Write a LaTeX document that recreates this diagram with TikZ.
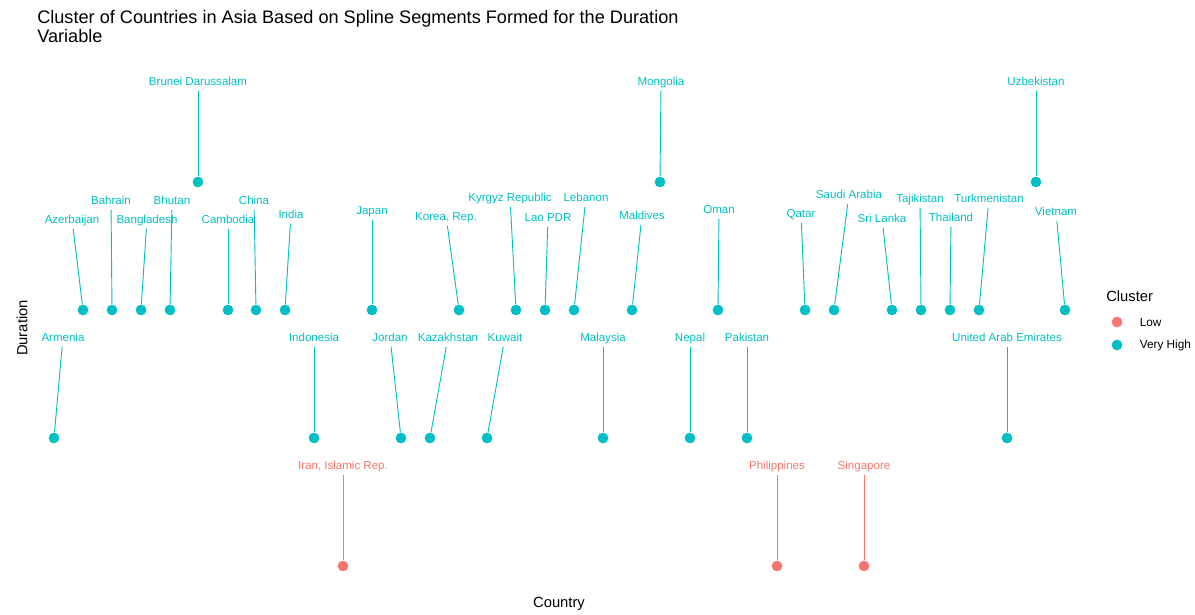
\documentclass[tikz,border=0pt]{standalone}
\usepackage{fontspec}
\setmainfont{Liberation Sans}
\usepackage{tikz}
\usetikzlibrary{positioning}
\definecolor{vhteal}{RGB}{0,191,196}
\definecolor{lowred}{RGB}{248,118,109}

\begin{document}
\begin{tikzpicture}[
    x=0.025cm, y=-0.025cm,
    vhdot/.style={circle, fill=vhteal, inner sep=0pt, minimum size=7.6pt},
    lowdot/.style={circle, fill=lowred, inner sep=0pt, minimum size=7.6pt},
    vhlab/.style={text=vhteal, font=\fontsize{8.2}{9.8}\selectfont, inner sep=1.6pt, text height=1.6ex, text depth=0.35ex},
    lowlab/.style={text=lowred, font=\fontsize{8.2}{9.8}\selectfont, inner sep=1.6pt, text height=1.6ex, text depth=0.35ex},
    vhline/.style={draw=vhteal, line width=0.65pt},
    lowline/.style={draw=lowred, line width=0.65pt},
    axistitle/.style={font=\fontsize{10.5}{12}\selectfont, inner sep=0pt}
]
\useasboundingbox (0,0) rectangle (1195,615);

% Title
\node[anchor=north west, align=left, inner sep=0pt, font=\fontsize{12.9}{13.8}\selectfont] (title) at (37,10)
  {Cluster of Countries in Asia Based on Spline Segments Formed for the Duration\\Variable};

% Top row
\node[vhdot] (brunei) at (198,182) {};
\node[vhdot] (mongolia) at (660,182) {};
\node[vhdot] (uzbekistan) at (1036,182) {};
\node[vhlab] (brunei-lab) at (198,81) {Brunei Darussalam};
\node[vhlab] (mongolia-lab) at (661,81) {Mongolia};
\node[vhlab] (uzbekistan-lab) at (1036,81) {Uzbekistan};

% Second row
\node[vhdot] (azerbaijan) at (83,310) {};
\node[vhdot] (bahrain) at (112,310) {};
\node[vhdot] (bangladesh) at (141,310) {};
\node[vhdot] (bhutan) at (170,310) {};
\node[vhdot] (cambodia) at (228,310) {};
\node[vhdot] (china) at (256,310) {};
\node[vhdot] (india) at (285,310) {};
\node[vhdot] (japan) at (372,310) {};
\node[vhdot] (korea) at (459,310) {};
\node[vhdot] (kyrgyz) at (516,310) {};
\node[vhdot] (lao) at (545,310) {};
\node[vhdot] (lebanon) at (574,310) {};
\node[vhdot] (maldives) at (632,310) {};
\node[vhdot] (oman) at (718,310) {};
\node[vhdot] (qatar) at (805,310) {};
\node[vhdot] (saudi) at (834,310) {};
\node[vhdot] (srilanka) at (892,310) {};
\node[vhdot] (tajikistan) at (921,310) {};
\node[vhdot] (thailand) at (950,310) {};
\node[vhdot] (turkmenistan) at (979,310) {};
\node[vhdot] (vietnam) at (1065,310) {};

\node[vhlab] (azerbaijan-lab) at (72,219) {Azerbaijan};
\node[vhlab] (bahrain-lab) at (111,200) {Bahrain};
\node[vhlab] (bangladesh-lab) at (147,219) {Bangladesh};
\node[vhlab] (bhutan-lab) at (172,200) {Bhutan};
\node[vhlab] (cambodia-lab) at (228,219) {Cambodia};
\node[vhlab] (china-lab) at (254,200) {China};
\node[vhlab] (india-lab) at (291,214) {India};
\node[vhlab] (japan-lab) at (372,210) {Japan};
\node[vhlab] (korea-lab) at (446,216) {Korea, Rep.};
\node[vhlab] (kyrgyz-lab) at (510,197) {Kyrgyz Republic};
\node[vhlab] (lao-lab) at (548,217) {Lao PDR};
\node[vhlab] (lebanon-lab) at (586,197) {Lebanon};
\node[vhlab] (maldives-lab) at (642,215) {Maldives};
\node[vhlab] (oman-lab) at (719,209) {Oman};
\node[vhlab] (qatar-lab) at (801,213) {Qatar};
\node[vhlab] (saudi-lab) at (849,194) {Saudi Arabia};
\node[vhlab] (srilanka-lab) at (882,218) {Sri Lanka};
\node[vhlab] (tajikistan-lab) at (920,198) {Tajikistan};
\node[vhlab] (thailand-lab) at (951,217) {Thailand};
\node[vhlab] (turkmenistan-lab) at (989,198) {Turkmenistan};
\node[vhlab] (vietnam-lab) at (1056,211) {Vietnam};

% Third row
\node[vhdot] (armenia) at (54,438) {};
\node[vhdot] (indonesia) at (314,438) {};
\node[vhdot] (jordan) at (401,438) {};
\node[vhdot] (kazakhstan) at (430,438) {};
\node[vhdot] (kuwait) at (487,438) {};
\node[vhdot] (malaysia) at (603,438) {};
\node[vhdot] (nepal) at (690,438) {};
\node[vhdot] (pakistan) at (747,438) {};
\node[vhdot] (uae) at (1007,438) {};

\node[vhlab] (armenia-lab) at (63,337) {Armenia};
\node[vhlab] (indonesia-lab) at (314,337) {Indonesia};
\node[vhlab] (jordan-lab) at (390,337) {Jordan};
\node[vhlab] (kazakhstan-lab) at (448,337) {Kazakhstan};
\node[vhlab] (kuwait-lab) at (505,337) {Kuwait};
\node[vhlab] (malaysia-lab) at (603,337) {Malaysia};
\node[vhlab] (nepal-lab) at (690,337) {Nepal};
\node[vhlab] (pakistan-lab) at (747,337) {Pakistan};
\node[vhlab] (uae-lab) at (1007,337) {United Arab Emirates};

% Bottom row (low cluster)
\node[lowdot] (iran) at (343,566) {};
\node[lowdot] (philippines) at (777,566) {};
\node[lowdot] (singapore) at (864,566) {};
\node[lowlab] (iran-lab) at (343,465) {Iran, Islamic Rep.};
\node[lowlab] (philippines-lab) at (777,465) {Philippines};
\node[lowlab] (singapore-lab) at (864,465) {Singapore};

% Segments
\draw[vhline] (brunei-lab) -- (brunei);
\draw[vhline] (mongolia-lab) -- (mongolia);
\draw[vhline] (uzbekistan-lab) -- (uzbekistan);
\draw[vhline] (azerbaijan-lab) -- (azerbaijan);
\draw[vhline] (bahrain-lab) -- (bahrain);
\draw[vhline] (bangladesh-lab) -- (bangladesh);
\draw[vhline] (bhutan-lab) -- (bhutan);
\draw[vhline] (cambodia-lab) -- (cambodia);
\draw[vhline] (china-lab) -- (china);
\draw[vhline] (india-lab) -- (india);
\draw[vhline] (japan-lab) -- (japan);
\draw[vhline] (korea-lab) -- (korea);
\draw[vhline] (kyrgyz-lab) -- (kyrgyz);
\draw[vhline] (lao-lab) -- (lao);
\draw[vhline] (lebanon-lab) -- (lebanon);
\draw[vhline] (maldives-lab) -- (maldives);
\draw[vhline] (oman-lab) -- (oman);
\draw[vhline] (qatar-lab) -- (qatar);
\draw[vhline] (saudi-lab) -- (saudi);
\draw[vhline] (srilanka-lab) -- (srilanka);
\draw[vhline] (tajikistan-lab) -- (tajikistan);
\draw[vhline] (thailand-lab) -- (thailand);
\draw[vhline] (turkmenistan-lab) -- (turkmenistan);
\draw[vhline] (vietnam-lab) -- (vietnam);
\draw[vhline] (armenia-lab) -- (armenia);
\draw[vhline] (indonesia-lab) -- (indonesia);
\draw[vhline] (jordan-lab) -- (jordan);
\draw[vhline] (kazakhstan-lab) -- (kazakhstan);
\draw[vhline] (kuwait-lab) -- (kuwait);
\draw[vhline] (malaysia-lab) -- (malaysia);
\draw[vhline] (nepal-lab) -- (nepal);
\draw[vhline] (pakistan-lab) -- (pakistan);
\draw[vhline] (uae-lab) -- (uae);
\draw[lowline] (iran-lab) -- (iran);
\draw[lowline] (philippines-lab) -- (philippines);
\draw[lowline] (singapore-lab) -- (singapore);

% Axis titles
\node[axistitle, rotate=90] (ytitle) at (22,328) {Duration};
\node[axistitle] (xtitle) at (559,604) {Country};

% Legend
\node[axistitle, anchor=west] (legend-title) at (1106,296) {Cluster};
\node[lowdot] (legend-low) at (1117,322) {};
\node[vhdot] (legend-vh) at (1117,345) {};
\node[anchor=west, inner sep=0pt, font=\fontsize{8.4}{10}\selectfont, right=12pt of legend-low] (legend-low-lab) {Low};
\node[anchor=west, inner sep=0pt, font=\fontsize{8.4}{10}\selectfont, right=12pt of legend-vh] (legend-vh-lab) {Very High};

\end{tikzpicture}
\end{document}
